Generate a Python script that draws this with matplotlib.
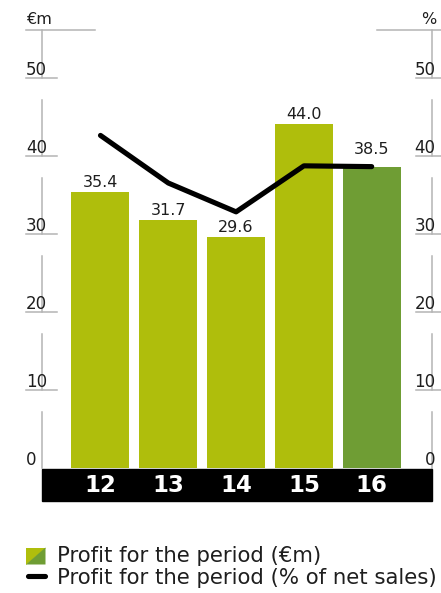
import matplotlib.pyplot as plt
from matplotlib.patches import Polygon, Rectangle
from matplotlib.lines import Line2D
import matplotlib.transforms as mtransforms

# Data
years = ["12", "13", "14", "15", "16"]
profit_eur_m = [35.4, 31.7, 29.6, 44.0, 38.5]
profit_pct_sales = [42.6, 36.5, 32.8, 38.7, 38.6]
ticks = [0, 10, 20, 30, 40, 50]
legend_labels = ["Profit for the period (€m)", "Profit for the period (% of net sales)"]

LIGHT = "#afbe0c"
DARK = "#6f9d34"
AXIS_GREY = "#b4b4b4"
TEXT = "#1e1e1e"

W, H = 441, 593


def fx(px):
    return px / W


def fy(py):
    return 1 - py / H


plt.rcParams["font.family"] = "DejaVu Sans"

fig = plt.figure(figsize=(W / 100, H / 100), dpi=100)

# axes spans the two vertical scale lines; y from 0 up to the header rule
left_px, right_px, zero_px, top_px, fifty_px = 41.7, 431.7, 467.7, 30.0, 77.7
ymax = 50 * (zero_px - top_px) / (zero_px - fifty_px)
ax = fig.add_axes([fx(left_px), fy(zero_px), (right_px - left_px) / W,
                   (zero_px - top_px) / H])
ax.set_ylim(0, ymax)
ax.set_xlim(-0.867, len(years) - 1 + 0.885)
ax.axis("off")

ax2 = ax.twinx()
ax2.set_ylim(ax.get_ylim())
ax2.axis("off")

x = list(range(len(years)))
colors = [LIGHT] * (len(years) - 1) + [DARK]
ax.bar(x, profit_eur_m, width=0.855, color=colors, linewidth=0, zorder=2)

ax2.plot(x, profit_pct_sales, color="black", lw=3.7,
         solid_capstyle="round", solid_joinstyle="round", zorder=3)

# value labels; lift a label above the line where the line crosses the bar top
unit_px = (zero_px - fifty_px) / 50
for xi, v, p in zip(x, profit_eur_m, profit_pct_sales):
    y = v + 5 / unit_px
    if abs(p - v) < 3:
        y = p + 13 / unit_px
    ax.text(xi, y, f"{v:.1f}", ha="center", va="baseline", fontsize=11.5,
            color=TEXT, zorder=4)

# scale lines: vertical segments broken where the tick labels sit
label_gap = 22.7 / unit_px
xt = ax.get_yaxis_transform()
for axis_x, tick_from, tick_to, lab_x, ha in [
        (0.0, -0.040, 0.039, -0.040, "left"),
        (1.0, 0.960, 1.040, 1.010, "right")]:
    bounds = ticks + [ymax + label_gap]
    for lo, hi in zip(bounds[:-1], bounds[1:]):
        ax.plot([axis_x, axis_x], [lo, hi - label_gap], color=AXIS_GREY,
                lw=1.1, transform=xt, clip_on=False, zorder=1)
    for t in ticks:
        if t > 0:
            ax.plot([tick_from, tick_to], [t, t], color=AXIS_GREY, lw=1.1,
                    transform=xt, clip_on=False, zorder=1)
        ax.text(lab_x, t + 3 / unit_px, str(t), ha=ha, va="baseline",
                fontsize=12, color=TEXT, transform=xt, clip_on=False)

# header rules with unit labels
ax.plot([-0.040, 0.137], [ymax, ymax], color=AXIS_GREY, lw=1.1,
        transform=xt, clip_on=False)
ax.plot([0.859, 1.05], [ymax, ymax], color=AXIS_GREY, lw=1.1,
        transform=xt, clip_on=False)
ax.text(-0.040, ymax + 6 / unit_px, "€m", ha="left", va="baseline",
        fontsize=11.5, color=TEXT, transform=xt, clip_on=False)
ax.text(1.013, ymax + 6 / unit_px, "%", ha="right", va="baseline",
        fontsize=11.5, color=TEXT, transform=xt, clip_on=False)

# black year band under the bars
fig.add_artist(Rectangle((fx(41.7), fy(501)), (432.3 - 41.7) / W,
                         (501 - 469.3) / H, transform=fig.transFigure,
                         color="black", zorder=5))
band_tr = mtransforms.blended_transform_factory(ax.transData, fig.transFigure)
for xi, yr in zip(x, years):
    fig.text(xi, fy(485), yr, ha="center", va="center", fontsize=16.5,
             fontweight="bold", color="white", transform=band_tr, zorder=6)

# legend
sq_l, sq_r, sq_t, sq_b = 26, 45.5, 547.5, 564.5
fig.add_artist(Polygon([(fx(sq_l), fy(sq_b)), (fx(sq_l), fy(sq_t)),
                        (fx(sq_r), fy(sq_t))], closed=True,
                       transform=fig.transFigure, color=LIGHT, lw=0))
fig.add_artist(Polygon([(fx(sq_l), fy(sq_b)), (fx(sq_r), fy(sq_t)),
                        (fx(sq_r), fy(sq_b))], closed=True,
                       transform=fig.transFigure, color=DARK, lw=0))
fig.add_artist(Line2D([fx(27.5), fx(44.5)], [fy(575.5), fy(575.5)],
                      transform=fig.transFigure, color="black", lw=3.7,
                      solid_capstyle="round"))
for row_y, label in zip([556, 578], legend_labels):
    fig.text(fx(56.5), fy(row_y), label, ha="left", va="center",
             fontsize=15.3, color=TEXT)

fig.savefig("out.png", dpi=100, facecolor="white")
